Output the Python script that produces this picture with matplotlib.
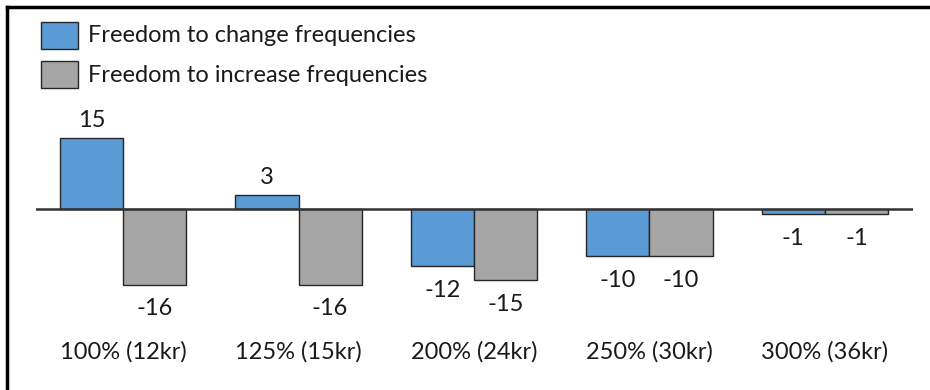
import numpy as np
import matplotlib.pyplot as plt
from matplotlib.lines import Line2D

categories = ['100% (12kr)', '125% (15kr)', '200% (24kr)', '250% (30kr)', '300% (36kr)']
change_freq = [15, 3, -12, -10, -1]
increase_freq = [-16, -16, -15, -10, -1]
series_names = ['Freedom to change frequencies', 'Freedom to increase frequencies']

blue = '#5B9BD5'
grey = '#A5A5A5'
edge = '#262626'

plt.rcParams['font.family'] = ['Lato', 'DejaVu Sans']

W, H = 930, 390
fig = plt.figure(figsize=(W / 100, H / 100), dpi=100)

# axes covers the whole height; zero line sits at y=209px, ~4.72 px per unit
zero_px, scale = 209.0, 4.72
ax = fig.add_axes([35.5 / W, 0, (912.5 - 35.5) / W, 1])
ax.set_xlim(-0.5, 4.5)
ax.set_ylim(-(H - zero_px) / scale, zero_px / scale)
ax.axis('off')

x = np.arange(len(categories))
bw = 0.36
b1 = ax.bar(x - bw / 2, change_freq, bw, color=blue, edgecolor=edge, linewidth=1)
b2 = ax.bar(x + bw / 2, increase_freq, bw, color=grey, edgecolor=edge, linewidth=1)
ax.axhline(0, color='#333333', lw=1.8, zorder=3)

lab_fs = 17
for bars, vals in [(b1, change_freq), (b2, increase_freq)]:
    for rect, v in zip(bars, vals):
        cx = rect.get_x() + rect.get_width() / 2
        if v >= 0:
            ax.annotate(str(v), (cx, v), xytext=(0, 5), textcoords='offset points',
                        ha='center', va='bottom', fontsize=lab_fs, color='#1a1a1a')
        else:
            ax.annotate(str(v), (cx, v), xytext=(0, -10), textcoords='offset points',
                        ha='center', va='top', fontsize=lab_fs, color='#1a1a1a')

cat_y = -(352 - zero_px) / scale
for xi, c in zip(x, categories):
    ax.text(xi, cat_y, c, ha='center', va='center', fontsize=lab_fs, color='#1a1a1a')

# legend drawn by hand: swatch + label
for i, (name, col) in enumerate(zip(series_names, [blue, grey])):
    top = 22 + i * 39
    fig.patches.append(plt.Rectangle((41 / W, 1 - (top + 27) / H), 37 / W, 27 / H,
                                     transform=fig.transFigure, facecolor=col,
                                     edgecolor=edge, linewidth=1))
    fig.text(88 / W, 1 - (top + 14) / H, name, ha='left', va='center',
             fontsize=lab_fs, color='#1a1a1a')

# frame along top and left edges
fig.lines.append(Line2D([7 / W, 1], [1 - 7 / H, 1 - 7 / H], transform=fig.transFigure,
                        color='black', lw=2.5))
fig.lines.append(Line2D([7 / W, 7 / W], [0, 1 - 7 / H], transform=fig.transFigure,
                        color='black', lw=2.5))

fig.savefig('out.png', dpi=100)
